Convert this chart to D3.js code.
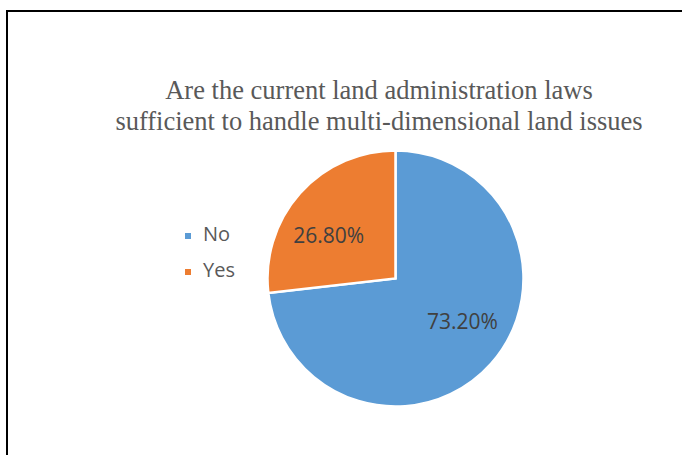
<!DOCTYPE html>
<html>
<head>
<meta charset="utf-8">
<script src="https://cdn.jsdelivr.net/npm/d3@7"></script>
<style>
  html, body { margin: 0; padding: 0; background: #fff; }
  svg { display: block; }
</style>
</head>
<body>
<svg id="chart" width="682" height="455"></svg>
<script>
// Survey answers and their shares (percent)
const categories = ["No", "Yes"];
const shares = [73.2, 26.8];
const sliceColors = ["#5B9BD5", "#ED7D31"];
const titleLines = [
  "Are the current land administration laws",
  "sufficient to handle multi-dimensional land issues"
];

const svg = d3.select("#chart");
const W = 682, H = 455;

// Chart frame (top and left edges visible)
svg.append("rect")
  .attr("x", 7).attr("y", 11)
  .attr("width", W + 20).attr("height", H + 20)
  .attr("fill", "none")
  .attr("stroke", "#000")
  .attr("stroke-width", 2);

// Title
const title = svg.append("text")
  .attr("text-anchor", "middle")
  .attr("font-family", "'Liberation Serif', 'Times New Roman', serif")
  .attr("font-size", 26.5)
  .attr("fill", "#595959");
titleLines.forEach((t, i) => {
  title.append("tspan")
    .attr("x", 379)
    .attr("y", 99 + i * 31)
    .text(t);
});

// Pie
const cx = 395.5, cy = 278.5, R = 128;
const data = categories.map((c, i) => ({ name: c, value: shares[i] }));
const color = d3.scaleOrdinal().domain(categories).range(sliceColors);

const pie = d3.pie().value(d => d.value).sort(null);
const arc = d3.arc().innerRadius(0).outerRadius(R);
const labelArc = d3.arc().innerRadius(80).outerRadius(80);

const g = svg.append("g").attr("transform", `translate(${cx},${cy})`);
const arcs = pie(data);

g.selectAll("path.slice")
  .data(arcs)
  .join("path")
  .attr("class", "slice")
  .attr("d", arc)
  .attr("fill", d => color(d.data.name))
  .attr("stroke", "#fff")
  .attr("stroke-width", 2.5)
  .attr("stroke-linejoin", "miter");

// Data labels, pulled slightly toward the horizontal
g.selectAll("text.value")
  .data(arcs)
  .join("text")
  .attr("class", "value")
  .attr("transform", d => {
    const [x, y] = labelArc.centroid(d);
    return `translate(${x * 1.12},${y * 0.8})`;
  })
  .attr("text-anchor", "middle")
  .attr("dy", "0.36em")
  .attr("font-family", "'Open Sans', 'Liberation Sans', sans-serif")
  .attr("font-size", 21)
  .attr("fill", "#404040")
  .text(d => d.data.value.toFixed(2) + "%");

// Legend
const legend = svg.append("g").attr("transform", "translate(185,241)");
const rows = legend.selectAll("g.row")
  .data(categories)
  .join("g")
  .attr("class", "row")
  .attr("transform", (d, i) => `translate(0,${i * 36})`);
rows.append("rect")
  .attr("x", 0).attr("y", -8)
  .attr("width", 6).attr("height", 6)
  .attr("fill", d => color(d));
rows.append("text")
  .attr("x", 18)
  .attr("y", 0)
  .attr("font-family", "'Open Sans', 'Liberation Sans', sans-serif")
  .attr("font-size", 20)
  .attr("fill", "#595959")
  .text(d => d);
</script>
</body>
</html>
